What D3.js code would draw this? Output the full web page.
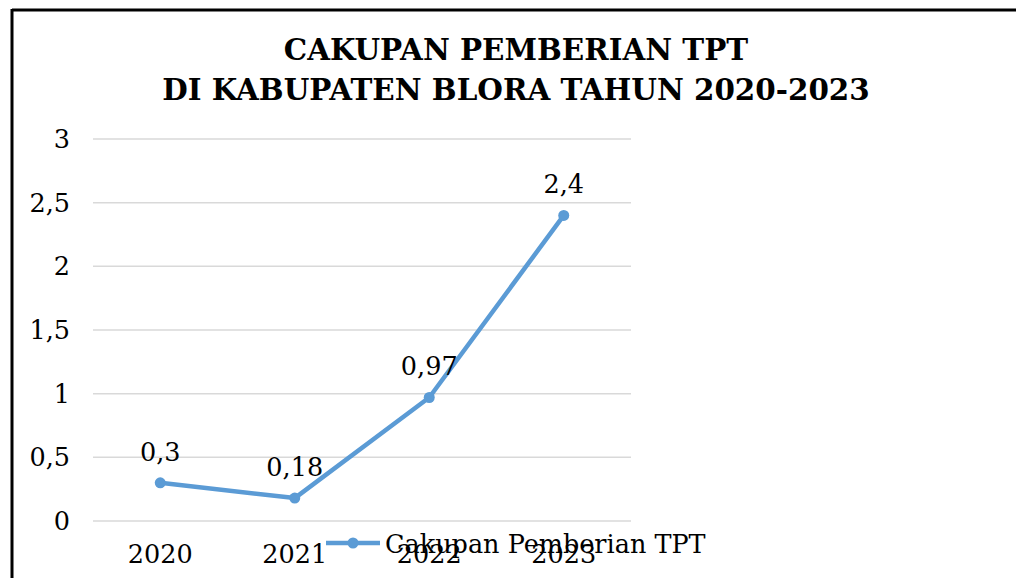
<!doctype html>
<html>
  <head>
    <meta charset="utf-8">
    <title>Cakupan Pemberian TPT</title>
    <style>
      html, body { margin: 0; padding: 0; background: #fff; }
      svg text { font-family: "DejaVu Serif", serif; fill: #000; }
      .title { font-weight: bold; font-size: 29.4px; }
      .tick { font-size: 25.5px; }
    </style>
  </head>
  <body>
    <svg id="chart" width="1016" height="578"></svg>
    <script src="https://d3js.org/d3.v7.min.js"></script>
    <script>
      // data
      var years = ["2020", "2021", "2022", "2023"];
      var values = [0.3, 0.18, 0.97, 2.4];
      var yTicks = [0, 0.5, 1, 1.5, 2, 2.5, 3];
      var titleLines = ["CAKUPAN PEMBERIAN TPT", "DI KABUPATEN BLORA TAHUN 2020-2023"];
      var seriesName = "Cakupan Pemberian TPT";

      var blue = "#5b9bd5";
      var fmt = function(v) { return String(v).replace(".", ","); };

      var svg = d3.select("#chart");

      // frame (top and left border)
      svg.append("line").attr("x1", 12).attr("x2", 1016).attr("y1", 10).attr("y2", 10)
        .attr("stroke", "#000").attr("stroke-width", 3);
      svg.append("line").attr("x1", 12).attr("x2", 12).attr("y1", 9).attr("y2", 578)
        .attr("stroke", "#000").attr("stroke-width", 3);

      // title
      svg.selectAll(".title").data(titleLines).enter().append("text")
        .attr("class", "title")
        .attr("x", 516)
        .attr("y", function(d, i) { return 60 + i * 40; })
        .attr("text-anchor", "middle")
        .text(function(d) { return d; });

      var x = d3.scalePoint().domain(years).range([93, 631]).padding(0.5);
      var y = d3.scaleLinear().domain([0, 3]).range([521, 139]);

      // gridlines
      svg.append("g").selectAll("line").data(yTicks).enter().append("line")
        .attr("x1", 93).attr("x2", 631)
        .attr("y1", function(d) { return y(d); })
        .attr("y2", function(d) { return y(d); })
        .attr("stroke", "#d9d9d9").attr("stroke-width", 1.5);

      // y labels
      svg.append("g").selectAll("text").data(yTicks).enter().append("text")
        .attr("class", "tick")
        .attr("x", 70)
        .attr("y", function(d) { return y(d) + 9; })
        .attr("text-anchor", "end")
        .text(fmt);

      // x labels
      svg.append("g").selectAll("text").data(years).enter().append("text")
        .attr("class", "tick")
        .attr("x", function(d) { return x(d); })
        .attr("y", 563)
        .attr("text-anchor", "middle")
        .text(function(d) { return d; });

      var pts = years.map(function(d, i) { return { year: d, v: values[i] }; });

      svg.append("path").datum(pts)
        .attr("fill", "none").attr("stroke", blue).attr("stroke-width", 4.5)
        .attr("stroke-linejoin", "round")
        .attr("d", d3.line().x(function(d) { return x(d.year); }).y(function(d) { return y(d.v); }));

      svg.append("g").selectAll("circle").data(pts).enter().append("circle")
        .attr("cx", function(d) { return x(d.year); })
        .attr("cy", function(d) { return y(d.v); })
        .attr("r", 5.5).attr("fill", blue);

      // data labels
      svg.append("g").selectAll("text").data(pts).enter().append("text")
        .attr("class", "tick")
        .attr("x", function(d) { return x(d.year); })
        .attr("y", function(d) { return y(d.v) - 22; })
        .attr("text-anchor", "middle")
        .text(function(d) { return fmt(d.v); });

      // legend (overlapping the axis labels, as in the original)
      var lg = svg.append("g");
      lg.append("line").attr("x1", 326).attr("x2", 380).attr("y1", 543).attr("y2", 543)
        .attr("stroke", blue).attr("stroke-width", 4.5);
      lg.append("circle").attr("cx", 353).attr("cy", 543).attr("r", 5.5).attr("fill", blue);
      lg.append("text").attr("class", "tick").attr("x", 385).attr("y", 553).text(seriesName);
    </script>
  </body>
</html>
